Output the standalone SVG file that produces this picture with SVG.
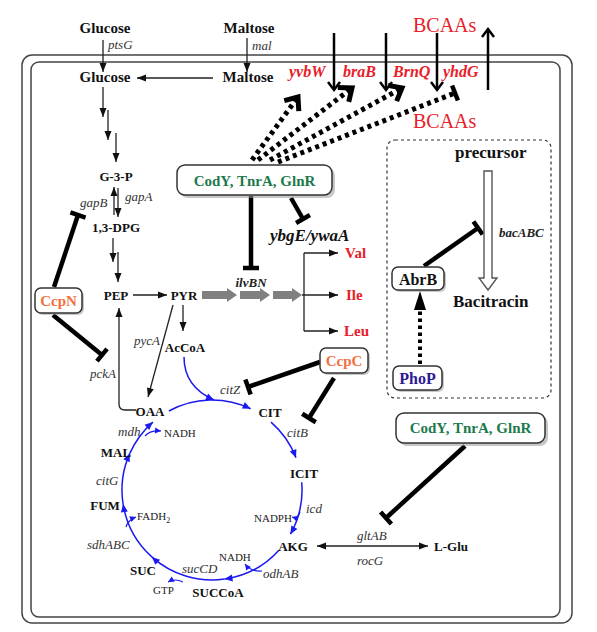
<svg xmlns="http://www.w3.org/2000/svg" width="597" height="632" viewBox="0 0 597 632" font-family="'Liberation Serif', Tinos, 'Times New Roman', 'DejaVu Serif', serif">
<defs>
<style>
text{font-family:'Liberation Serif', Tinos, 'Times New Roman', 'DejaVu Serif', serif;}
.b{font-weight:bold;fill:#111;font-size:13px;}
.bl{font-weight:bold;fill:#111;font-size:15px;}
.i{font-style:italic;fill:#333;font-size:13px;}
.s{fill:#222;font-size:11px;}
.red{fill:#e8202a;font-weight:bold;font-style:italic;font-size:16px;}
.aa{fill:#e8202a;font-weight:bold;font-size:15px;}
.bca{fill:#e8202a;font-size:20px;}
.grn{fill:#1b7a4c;font-weight:bold;font-size:15px;}
.org{fill:#f2703f;font-weight:bold;font-size:15px;}
.thin{stroke:#222;stroke-width:1.3;fill:none;marker-end:url(#ah);}
.inh{stroke:#000;stroke-width:4.5;fill:none;marker-end:url(#tb);}
.dot{stroke:#000;stroke-width:5;fill:none;stroke-dasharray:4 4;}
.tca{stroke:#1a1af0;stroke-width:1.5;fill:none;marker-end:url(#bah);}
.tcs{stroke:#1a1af0;stroke-width:1.2;fill:none;marker-end:url(#bah2);}
.box{fill:#fff;stroke:#333;stroke-width:1.5;}
.shd{fill:#999;opacity:0.55;}
.big{stroke:#000;stroke-width:2.5;fill:none;marker-end:url(#oa);}
marker{overflow:visible;}
</style>
<marker id="ah" viewBox="-10 -5 12 10" refX="0" refY="0" markerWidth="12" markerHeight="10" orient="auto-start-reverse" markerUnits="userSpaceOnUse"><path d="M-9,-3.5L0,0L-9,3.5z" fill="#111"/></marker>
<marker id="tb" viewBox="-3 -9 6 18" refX="0" refY="0" markerWidth="6" markerHeight="18" orient="auto" markerUnits="userSpaceOnUse"><path d="M0,-8V8" stroke="#000" stroke-width="4.5"/></marker>
<marker id="chev" viewBox="-16 -12 20 24" refX="0" refY="0" markerWidth="20" markerHeight="24" orient="auto" markerUnits="userSpaceOnUse"><path d="M-11,-9L0,0L-11,9" fill="none" stroke="#000" stroke-width="5"/></marker>
<marker id="oa" viewBox="-10 -8 12 16" refX="0" refY="0" markerWidth="12" markerHeight="16" orient="auto" markerUnits="userSpaceOnUse"><path d="M-8,-6L0,0L-8,6" fill="none" stroke="#000" stroke-width="2.5"/></marker>
<marker id="bah" viewBox="-10 -5 12 10" refX="0" refY="0" markerWidth="12" markerHeight="10" orient="auto" markerUnits="userSpaceOnUse"><path d="M-8,-3.5L0,0L-8,3.5z" fill="#1a1af0"/></marker>
<marker id="bah2" viewBox="-10 -5 12 10" refX="0" refY="0" markerWidth="12" markerHeight="10" orient="auto" markerUnits="userSpaceOnUse"><path d="M-6,-3L0,0L-6,3z" fill="#1a1af0"/></marker>
</defs>
<rect width="597" height="632" fill="#fff"/>

<g id="cell">
<rect x="22" y="55" width="550" height="568" rx="10" fill="none" stroke="#444" stroke-width="1.5"/>
<rect x="31" y="62" width="529" height="555" rx="8" fill="none" stroke="#444" stroke-width="1.5"/>
</g>

<g id="bac-region">
<rect x="387" y="140" width="164" height="258" rx="8" fill="none" stroke="#333" stroke-width="1.2" stroke-dasharray="3 3"/>
</g>

<g id="connectors">
<path class="thin" d="M103,40V72"/>
<path class="thin" d="M247,38V72"/>
<path class="thin" d="M213,78H137"/>
<path class="thin" d="M103,87V117"/>
<path class="thin" d="M108,110V140"/>
<path class="thin" d="M116,133V162"/>
<path class="thin" d="M114,215V187"/>
<path class="thin" d="M118,188V217"/>
<path class="thin" d="M113,238V262"/>
<path class="thin" d="M118,252V282"/>
<path class="thin" d="M133,295H167"/>
<path class="thin" d="M183,305V331"/>
<path class="thin" d="M173,305L148,397"/>
<path class="thin" d="M136,410H125Q119,410 119,404V308"/>
<g fill="#808080">
<polygon points="202,291 227,291 227,288 237,295 227,302 227,299 202,299"/>
<polygon points="240,291 260,291 260,288 270,295 260,302 260,299 240,299"/>
<polygon points="273,291 292,291 292,288 302,295 292,302 292,299 273,299"/>
</g>
<path d="M304,253V331" stroke="#333" stroke-width="1.4" fill="none"/>
<path class="thin" d="M304,253H338"/>
<path class="thin" d="M302,295H338"/>
<path class="thin" d="M304,331H338"/>
<path class="thin" d="M317,546H428" marker-start="url(#ah)"/>
<path class="big" d="M334,33V90"/>
<path class="big" d="M386,33V90"/>
<path class="big" d="M437,33V90"/>
<path class="big" d="M488,90V29"/>
<path class="dot" d="M252,160L298,97" marker-end="url(#chev)"/>
<path class="dot" d="M258,160L352,88" marker-end="url(#chev)"/>
<path class="dot" d="M270,160L402,88" marker-end="url(#chev)"/>
<path class="dot" d="M278,162L455,93" marker-end="url(#tb)"/>
<path class="inh" d="M54,287L78,215"/>
<path class="inh" d="M53,315L102,355"/>
<path class="inh" d="M251,196V268"/>
<path class="inh" d="M291,198L303,219"/>
<path class="inh" d="M320,362L248,387"/>
<path class="inh" d="M334,378L309,418"/>
<path class="inh" d="M424,266L478,228"/>
<path class="inh" d="M465,446L386,518"/>
<polygon points="484,171 492,171 492,278 497,278 488,290 479,278 484,278" fill="#fff" stroke="#555" stroke-width="1.4"/>
<path d="M420,364V304" stroke="#000" stroke-width="4" stroke-dasharray="3.5 3.5" fill="none"/>
<path d="M414,310L420,291L426,310z" fill="#000"/>
<path class="tca" d="M184,357C184,378 196,392 214,400"/>
<path class="tca" d="M168.9,411A90,90 0 0 1 250.6,408.7"/>
<path class="tca" d="M271,422.1A90,90 0 0 1 296,457.7"/>
<path class="tca" d="M301.7,482.2A90,90 0 0 1 290.4,534.2"/>
<path class="tca" d="M278.9,550.2A90,90 0 0 1 224.5,579.1"/>
<path class="tca" d="M224.5,579.1A90,90 0 0 1 151.8,556.9"/>
<path class="tca" d="M151.8,556.9A90,90 0 0 1 123.1,504.1"/>
<path class="tca" d="M123.1,504.1A90,90 0 0 1 129.8,453.4"/>
<path class="tca" d="M129.8,453.4A90,90 0 0 1 152.9,422.1"/>
<path class="tcs" d="M145,436Q150,430 161,431"/>
<path class="tcs" d="M126,527Q128,520 136,517"/>
<path class="tcs" d="M183,582Q175,578 168,582"/>
<path class="tcs" d="M262,571Q251,572 245,564"/>
<path class="tcs" d="M300,512Q298,519 292,517"/>
</g>

<g id="CodY1">
<rect class="shd" x="180" y="168" width="155" height="30" rx="8"/>
<rect class="box" x="177" y="165" width="155" height="30" rx="8"/>
<text class="grn" x="254.5" y="186" text-anchor="middle">CodY, TnrA, GlnR</text>
</g>
<g id="CodY2">
<rect class="shd" x="399" y="416" width="149" height="30" rx="8"/>
<rect class="box" x="396" y="413" width="149" height="30" rx="8"/>
<text class="grn" x="470.5" y="433" text-anchor="middle">CodY, TnrA, GlnR</text>
</g>
<g id="CcpN">
<rect class="shd" x="37" y="290" width="47" height="25" rx="6"/>
<rect class="box" x="35" y="288" width="47" height="25" rx="6"/>
<text class="org" x="58.5" y="306" text-anchor="middle">CcpN</text>
</g>
<g id="CcpC">
<rect class="shd" x="322" y="350" width="48" height="25" rx="6"/>
<rect class="box" x="320" y="348" width="48" height="25" rx="6"/>
<text class="org" x="344" y="366" text-anchor="middle">CcpC</text>
</g>
<g id="AbrB">
<rect class="shd" x="394" y="269" width="52" height="23" rx="6"/>
<rect class="box" x="392" y="267" width="52" height="23" rx="6"/>
<text x="418" y="285" text-anchor="middle" style="font-weight:bold;font-size:16px;fill:#111">AbrB</text>
</g>
<g id="PhoP">
<rect class="shd" x="395" y="368" width="49" height="24" rx="6"/>
<rect class="box" x="393" y="366" width="49" height="24" rx="6"/>
<text x="417.5" y="384" text-anchor="middle" style="font-weight:bold;font-size:16px;fill:#2e1a94">PhoP</text>
</g>

<g id="metabolites">
<text class="bl" x="105" y="33" text-anchor="middle">Glucose</text>
<text class="bl" x="249" y="33" text-anchor="middle">Maltose</text>
<text class="bl" x="105" y="82" text-anchor="middle">Glucose</text>
<text class="bl" x="248" y="82" text-anchor="middle">Maltose</text>
<text class="b" x="116" y="181" text-anchor="middle">G-3-P</text>
<text class="b" x="116" y="232" text-anchor="middle">1,3-DPG</text>
<text class="b" x="116" y="300" text-anchor="middle">PEP</text>
<text class="b" x="184" y="300" text-anchor="middle">PYR</text>
<text class="b" x="185" y="352" text-anchor="middle">AcCoA</text>
<text class="b" x="150" y="416" text-anchor="middle">OAA</text>
<text class="b" x="270" y="417" text-anchor="middle">CIT</text>
<text class="b" x="304" y="478" text-anchor="middle">ICIT</text>
<text class="b" x="293" y="551" text-anchor="middle">AKG</text>
<text class="b" x="451" y="551" text-anchor="middle">L-Glu</text>
<text class="b" x="218" y="597" text-anchor="middle">SUCCoA</text>
<text class="b" x="143" y="575" text-anchor="middle">SUC</text>
<text class="b" x="105" y="510" text-anchor="middle">FUM</text>
<text class="b" x="116" y="457" text-anchor="middle">MAL</text>
<text class="aa" x="345" y="258">Val</text>
<text class="aa" x="346" y="300">Ile</text>
<text class="aa" x="344" y="336">Leu</text>
<text class="bca" x="413" y="32">BCAAs</text>
<text class="bca" x="413" y="128">BCAAs</text>
<text x="455" y="158" style="font-weight:bold;font-size:17px;fill:#111">precursor</text>
<text x="453" y="307" style="font-weight:bold;font-size:17px;fill:#111">Bacitracin</text>
<text class="s" x="164" y="437">NADH</text>
<text class="s" x="137" y="520">FADH<tspan font-size="8" dy="3">2</tspan></text>
<text class="s" x="254" y="522">NADPH</text>
<text class="s" x="219" y="561">NADH</text>
<text class="s" x="153" y="594">GTP</text>
</g>

<g id="genes">
<text class="i" x="108" y="49">ptsG</text>
<text class="i" x="252" y="50">mal</text>
<text class="i" x="125" y="201">gapA</text>
<text class="i" x="80" y="207">gapB</text>
<text class="i" x="134" y="345">pycA</text>
<text class="i" x="90" y="378">pckA</text>
<text class="i" x="220" y="394">citZ</text>
<text class="i" x="287" y="437">citB</text>
<text class="i" x="306" y="513">icd</text>
<text class="i" x="263" y="578">odhAB</text>
<text class="i" x="182" y="573">sucCD</text>
<text class="i" x="87" y="549">sdhABC</text>
<text class="i" x="96" y="485">citG</text>
<text class="i" x="118" y="436">mdh</text>
<text class="i" x="357" y="540">gltAB</text>
<text class="i" x="357" y="565">rocG</text>
<text x="251" y="287" text-anchor="middle" style="font-style:italic;font-weight:bold;font-size:13px;fill:#222">ilvBN</text>
<text x="270" y="241" style="font-style:italic;font-weight:bold;font-size:17px;fill:#111">ybgE/ywaA</text>
<text x="499" y="237" style="font-style:italic;font-weight:bold;font-size:13px;fill:#222">bacABC</text>
<text class="red" x="289" y="77">yvbW</text>
<text class="red" x="343" y="77">braB</text>
<text class="red" x="393" y="77">BrnQ</text>
<text class="red" x="443" y="77">yhdG</text>
</g>
</svg>
